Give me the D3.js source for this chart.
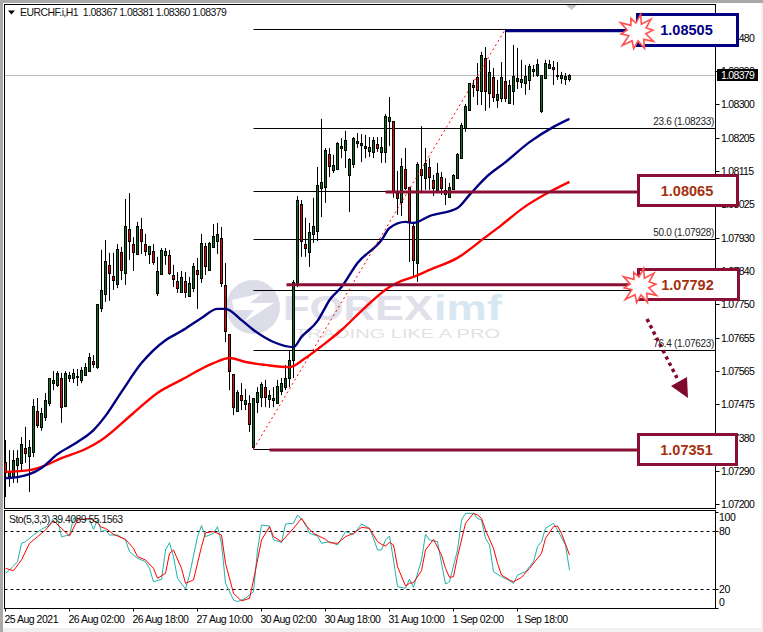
<!DOCTYPE html>
<html><head><meta charset="utf-8">
<style>html,body{margin:0;padding:0;background:#fff;overflow:hidden}svg{display:block}text{font-family:"Liberation Sans",Arial,sans-serif}</style>
<script src="https://cdn.jsdelivr.net/npm/d3@7"></script></head><body><div id="c"></div>
<script>
// Prices are in 1e-5 units (107315 = 1.07315)
const opens=[107315,107277,107274,107307,107313,107354,107332,107343,107455,107412,107439,107477,107532,107527,107546,107469,107546,107546,107549,107541,107554,107565,107593,107576,107738,107777,107857,107826,107804,107892,107835,107955,107914,107887,107955,107914,107887,107895,107780,107832,107884,107884,107829,107813,107782,107813,107771,107793,107843,107821,107909,107843,107906,107922,107931,107802,107667,107557,107455,107499,107475,107477,107357,107480,107494,107521,107488,107486,107477,107510,107521,107546,107596,107802,108024,107914,107892,107942,107950,108068,108071,108161,108117,108120,108178,108172,108104,108134,108192,108186,108178,108170,108167,108189,108167,108167,108252,108252,108054,108030,108120,108071,107964,107862,108120,108095,108126,108090,108063,108098,108063,108043,108065,108095,108150,108233,108282,108345,108373,108335,108425,108329,108373,108310,108315,108362,108302,108335,108362,108359,108356,108365,108389,108378,108280,108370,108398,108400,108376,108370,108367,108367];
const highs=[107376,107348,107348,107348,107384,107412,107376,107488,107491,107464,107505,107546,107565,107565,107560,107565,107563,107571,107571,107576,107587,107615,107609,107749,107898,107925,107890,107890,107914,107906,108038,108054,107933,107975,107986,107942,107909,107914,107879,107903,107903,107898,107857,107837,107840,107837,107824,107862,107876,107942,107917,107920,107969,107972,107961,107862,107667,107557,107513,107532,107516,107499,107491,107521,107535,107541,107513,107521,107541,107546,107582,107620,107815,108046,108035,107986,107972,108041,108126,108258,108178,108178,108159,108194,108205,108225,108150,108208,108219,108216,108214,108208,108208,108208,108208,108271,108318,108252,108115,108150,108178,108071,107975,108139,108238,108178,108150,108104,108137,108112,108095,108082,108106,108164,108247,108299,108356,108365,108411,108442,108455,108420,108398,108365,108414,108505,108365,108461,108453,108420,108406,108409,108406,108422,108378,108420,108420,108417,108414,108387,108384,108381];
const lows=[107219,107247,107258,107258,107288,107313,107233,107329,107409,107401,107428,107469,107513,107521,107423,107466,107535,107532,107524,107532,107552,107563,107574,107571,107727,107755,107758,107788,107793,107815,107802,107870,107840,107884,107887,107881,107859,107857,107771,107829,107857,107829,107796,107780,107780,107766,107769,107782,107736,107807,107829,107840,107903,107887,107796,107645,107513,107444,107455,107458,107458,107398,107351,107450,107466,107466,107464,107466,107477,107499,107513,107521,107546,107796,107879,107879,107851,107917,107922,107988,108027,108098,108109,108117,108150,108123,108002,108123,108178,108139,108150,108153,108150,108167,108137,108137,108183,108041,107994,107991,108063,107865,107824,107810,108054,108063,108063,108046,108063,108049,108021,108043,108063,108093,108150,108222,108280,108318,108296,108296,108280,108288,108304,108288,108304,108304,108299,108296,108340,108343,108324,108337,108373,108373,108274,108367,108398,108351,108365,108354,108351,108360];
const closes=[107288,107288,107321,107326,107365,107340,107357,107469,107417,107450,107486,107546,107541,107560,107466,107560,107554,107560,107552,107568,107576,107604,107585,107749,107788,107868,107835,107815,107900,107843,107964,107922,107892,107964,107922,107895,107909,107865,107840,107898,107895,107835,107818,107793,107824,107782,107807,107854,107832,107917,107854,107917,107936,107942,107807,107675,107565,107466,107508,107486,107486,107420,107491,107508,107530,107494,107499,107491,107524,107532,107546,107596,107810,108035,107922,107903,107947,107964,108076,108085,108172,108128,108131,108192,108183,108200,108148,108205,108197,108192,108183,108181,108200,108178,108181,108266,108263,108060,108041,108128,108068,107975,107870,108134,108104,108137,108098,108068,108109,108068,108052,108071,108104,108161,108241,108293,108356,108351,108337,108433,108335,108387,108318,108326,108373,108315,108351,108376,108370,108367,108376,108403,108395,108409,108378,108411,108409,108395,108378,108378,108376,108379];

const blueBars=[0,3,6,9,13,18,22,25,29,34,40,44,49,53,55,59,62,67,72,74,78,80,81,84,88,94,96,100,102,106,113,116,120,125,131,137,141];
const blueMA=[107271,107274,107282,107299,107337,107370,107403,107442,107508,107587,107650,107675,107711,107736,107736,107705,107678,107645,107631,107659,107703,107741,107760,107796,107862,107925,107958,107975,107972,107991,108013,108049,108096,108139,108194,108236,108258];
const redBars=[0,6,9,14,20,24,32,38,44,52,56,60,65,71,75,80,84,90,96,99,102,106,113,120,124,129,137,141];
const redMA=[107288,107293,107302,107326,107351,107376,107450,107505,107541,107587,107601,107590,107582,107576,107601,107642,107678,107741,107796,107813,107824,107843,107876,107933,107966,108010,108063,108085];

const stoMainBars=[0,1,3,4,5,7,9,11,12,13,14,16,17,18,20,21,22,23,24,25,26,28,30,31,33,35,36,37,39,40,41,42,43,45,46,48,49,50,52,53,54,55,57,58,60,62,63,64,66,67,69,70,72,73,75,76,78,79,81,83,85,87,89,91,92,93,94,95,96,97,98,100,101,102,104,105,106,108,109,110,111,113,114,115,117,118,119,120,121,122,124,126,127,128,130,132,133,134,135,137,138,140,141];
const stoMain=[36.2,39.6,48.2,67.2,68.9,75.8,81.7,86.1,93,91.3,74.1,75.8,93,93,91.3,92,81.7,91.3,79.3,81,75.8,75.8,70.6,58.6,51.7,48.2,41.3,27.5,30,60.3,67.9,53.4,31,20,34.4,74.1,85.5,74.1,77.5,84.4,67.2,25.8,8.6,6.9,10.3,17.2,60.3,86.1,85.1,70.6,68.2,87.2,87.9,96.5,87.9,77.5,74.8,67.2,68.9,65.5,79.3,76.5,87.2,82.7,72.4,60.3,60.3,70.6,74.8,50,22.4,20.7,30,21.7,50,76.5,70.6,68.9,46.5,25.1,27.5,60.3,91.3,98.2,98.2,93,91.3,72.4,65.5,37.9,32.7,28.6,25.8,34.4,37.9,48.2,63.7,68.9,82.7,87.9,81,65.5,39.4];
const stoSigBars=[0,2,4,6,8,10,12,14,16,18,21,23,24,25,27,30,32,33,35,37,38,40,41,42,44,45,47,48,49,50,52,54,55,57,59,61,62,64,66,67,69,72,74,75,77,80,81,83,85,87,89,91,93,94,95,96,97,98,100,101,102,104,105,107,109,110,111,112,113,115,117,118,119,120,122,123,124,126,127,129,131,134,135,137,138,139,141];
const stoSig=[41.3,38.9,50,67.2,74.1,81,90.6,82.7,74.8,91.3,93,88.6,83.7,82.7,76.5,71.3,62,53.4,50,41.3,31,36.2,56.8,60.3,41.3,25.8,29.3,46.5,63.7,78.2,79.3,75.8,46.5,15.5,7.6,10.3,29.3,70.6,84.4,74.1,68.9,82.7,93,86.1,77.5,71.3,67.9,67.2,74.1,77.5,83.7,82.7,68.9,66.2,64.4,68.2,65.5,43,23.1,25.8,26.5,38.9,60.3,71.3,55.1,41.3,32,32.7,53.4,87.9,98.2,96.5,93,81,62,46.5,34.4,29.3,27.5,32,41.3,56.8,72.4,84.4,85.1,77.5,55.16];

const priceTicks=[108480,108390,108300,108205,108115,108025,107930,107840,107750,107655,107565,107475,107380,107290,107200];
const priceTickLabels=["1.08480","1.08390","1.08300","1.08205","1.08115","1.08025","1.07930","1.07840","1.07750","1.07655","1.07565","1.07475","1.07380","1.07290","1.07200"];
const timeBars=[0,16,32,48,64,80,96,112,128];
const timeLabels=["25 Aug 2021","26 Aug 02:00","26 Aug 18:00","27 Aug 10:00","30 Aug 02:00","30 Aug 18:00","31 Aug 10:00","1 Sep 02:00","1 Sep 18:00"];
const stoTicks=[100,80,20,0];
const fibPrices=[108505,108233,108060,107928,107789,107623,107351];
const fibNotes=["","23.6 (1.08233)","","50.0 (1.07928)","","76.4 (1.07623)",""];
const fibStartBar=62, fibEndBar=125;
const levelLabels=["1.08505","1.08065","1.07792","1.07351"];
const levelLinePrices=[108500,108057,107802,107348];
const levelStartBars=[125,95,70.25,66];
const lastPrice=108379;
const headerText="EURCHF.i,H1  1.08367 1.08381 1.08360 1.08379";
const stoText="Sto(5,3,3) 39.4089 55.1563";

const W=763,H=632,L=4.5,R=715.5,T=4.5,MB=508.5,ST=510.5,SB=608.5;
const NAVY="#000080",MAROON="#8a0f35",TXT="#a5300f",GRN="#0a6e1e",RED="#f00000";
const svg=d3.select("#c").append("svg").attr("width",W).attr("height",H);
const X=d3.scaleLinear().domain([0,141]).range([5.5,569.5]);
const Y=d3.scaleLinear().domain([107200,108480]).range([504,38]);
const S=d3.scaleLinear().domain([0,100]).range([608.3,511.6]);

svg.append("rect").attr("width",W).attr("height",H).attr("fill","#f0f0f0");
svg.append("rect").attr("x",0).attr("y",0).attr("width",W).attr("height",3).attr("fill","#a9a9a9");
svg.append("rect").attr("x",0).attr("y",0).attr("width",3).attr("height",H).attr("fill","#a9a9a9");
svg.append("rect").attr("x",3).attr("y",3).attr("width",758).attr("height",625).attr("fill","#fff");

// watermark
const wm=svg.append("g");
wm.append("circle").attr("cx",253).attr("cy",307).attr("r",27).attr("fill","#dcdde8");
wm.append("path").attr("d","M232 300 L262 293 L250 303 L274 303 L244 322 L254 310 L234 310 Z").attr("fill","#fff");
const wmText=(x,y,fs,w,c,t,fw)=>wm.append("text").attr("x",x).attr("y",y).attr("font-size",fs).attr("font-weight",fw).attr("textLength",w).attr("lengthAdjust","spacingAndGlyphs").attr("fill",c).text(t);
wmText(283,320,35,150,"#dfe0e9","FOREX","bold");
wmText(434,320,35,68,"#d8e8f3","imf","bold");
wmText(295,338,13,205,"#e2e2e2","TRADING LIKE A PRO","normal");

// current price line
svg.append("line").attr("x1",L).attr("x2",R).attr("y1",Math.round(Y(lastPrice))+.5).attr("y2",Math.round(Y(lastPrice))+.5).attr("stroke","#bdbdbd");

// fibo
const crisp=v=>Math.round(v)+.5;
svg.selectAll(".fib").data(fibPrices).join("line").attr("x1",X(fibStartBar)).attr("x2",R)
 .attr("y1",d=>crisp(Y(d))).attr("y2",d=>crisp(Y(d))).attr("stroke","#000");
svg.selectAll(".fibn").data(fibPrices).join("text").attr("x",714).attr("y",d=>Y(d)-3).attr("text-anchor","end")
 .attr("font-size",10).attr("letter-spacing",-.3).attr("fill","#222").text((d,i)=>fibNotes[i]);

// candles
const cg=svg.append("g");
const bars=d3.range(opens.length);
cg.selectAll(".w").data(bars).join("line").attr("x1",i=>X(i)).attr("x2",i=>X(i))
 .attr("y1",i=>Y(highs[i])).attr("y2",i=>Y(lows[i])).attr("stroke","#000");
cg.selectAll(".b").data(bars).join("rect").attr("x",i=>X(i)-1)
 .attr("y",i=>crisp(Y(Math.max(opens[i],closes[i]))))
 .attr("width",2).attr("height",i=>Math.max(1,Math.round(Math.abs(Y(opens[i])-Y(closes[i])))))
 .attr("fill",i=>closes[i]<opens[i]?RED:GRN).attr("stroke","#000");

// MAs
const priceLine=(bs)=>d3.line().curve(d3.curveMonotoneX).x((d,i)=>X(bs[i])).y(d=>Y(d));
svg.append("path").attr("d",priceLine(redBars)(redMA)).attr("fill","none").attr("stroke","#ff0000").attr("stroke-width",2.4);
svg.append("path").attr("d",priceLine(blueBars)(blueMA)).attr("fill","none").attr("stroke",NAVY).attr("stroke-width",2.4);

// trend
svg.append("line").attr("x1",X(fibStartBar)).attr("y1",Y(fibPrices[6])).attr("x2",X(fibEndBar)).attr("y2",Y(fibPrices[0]))
 .attr("stroke","#ff0000").attr("stroke-dasharray","2 3");

// top shift marker
svg.append("path").attr("d","M566 5 L577 5 L571.5 10 Z").attr("fill","#c4c4c4");

// axes
svg.append("rect").attr("x",L).attr("y",T).attr("width",R-L).attr("height",MB-T).attr("fill","none").attr("stroke","#000");
svg.append("rect").attr("x",L).attr("y",ST).attr("width",R-L).attr("height",SB-ST).attr("fill","none").attr("stroke","#000");
const tickFont={size:10.5,ls:-.55};
svg.selectAll(".pt").data(priceTicks).join("line").attr("x1",R).attr("x2",R+4).attr("y1",d=>crisp(Y(d))).attr("y2",d=>crisp(Y(d))).attr("stroke","#000");
svg.selectAll(".pl").data(priceTicks).join("text").attr("x",721).attr("y",d=>Y(d)+4).attr("font-size",tickFont.size).attr("letter-spacing",-.7)
 .attr("fill","#000").text((d,i)=>priceTickLabels[i]);
svg.selectAll(".tt").data(timeBars).join("line").attr("x1",d=>X(d)).attr("x2",d=>X(d)).attr("y1",SB).attr("y2",SB+3).attr("stroke","#000");
svg.selectAll(".tl").data(timeBars).join("text").attr("x",d=>X(d)-1).attr("y",623).attr("font-size",tickFont.size).attr("letter-spacing",-.5)
 .attr("fill","#000").text((d,i)=>timeLabels[i]);

// price flag
svg.append("rect").attr("x",717).attr("y",69).attr("width",41).attr("height",12).attr("fill","#000");
svg.append("text").attr("x",721).attr("y",Y(lastPrice)+4).attr("font-size",tickFont.size).attr("letter-spacing",-.7).attr("fill","#fff").text(d3.format(".5f")(lastPrice/1e5));

// stochastic
[80,20].forEach(v=>svg.append("line").attr("x1",L).attr("x2",R).attr("y1",crisp(S(v))).attr("y2",crisp(S(v))).attr("stroke","#000").attr("stroke-dasharray","3 3"));
const stoLine=(bs)=>d3.line().x((d,i)=>X(bs[i])).y(d=>S(d));
svg.append("path").attr("d",stoLine(stoMainBars)(stoMain)).attr("fill","none").attr("stroke","#20b2aa");
svg.append("path").attr("d",stoLine(stoSigBars)(stoSig)).attr("fill","none").attr("stroke","#ff0000");
svg.selectAll(".sl").data(stoTicks).join("text").attr("x",719).attr("y",d=>d===100?521:d===0?606:S(d)+4)
 .attr("font-size",tickFont.size).attr("letter-spacing",-.4).text(d=>d);
svg.selectAll(".st").data(stoTicks).join("line").attr("x1",R).attr("x2",R+3).attr("y1",d=>crisp(S(d))).attr("y2",d=>crisp(S(d))).attr("stroke","#000");
svg.append("text").attr("x",9).attr("y",523).attr("font-size",tickFont.size).attr("letter-spacing",tickFont.ls).attr("fill","#111").text(stoText);

// header
svg.append("path").attr("d","M8 10.5 L15 10.5 L11.5 14.5 Z").attr("fill","#000");
svg.append("text").attr("x",20).attr("y",16).attr("font-size",tickFont.size).attr("letter-spacing",tickFont.ls).style("white-space","pre").attr("fill","#111").text(headerText);

// level lines
const lvColors=[NAVY,MAROON,MAROON,MAROON];
svg.selectAll(".lv").data(levelLinePrices).join("line").attr("x1",(d,i)=>X(levelStartBars[i])).attr("x2",637)
 .attr("y1",d=>Y(d)).attr("y2",d=>Y(d)).attr("stroke",(d,i)=>lvColors[i]).attr("stroke-width",3);

// boxes
const boxes=[[637.5,14.5,100,31],[638.5,175.5,99,30],[638.5,269.5,100,30],[638.5,434.5,98,30]];
const txtCol=[NAVY,TXT,TXT,TXT];
boxes.forEach((b,i)=>{
 svg.append("rect").attr("x",b[0]).attr("y",b[1]).attr("width",b[2]).attr("height",b[3]).attr("fill","#fff").attr("stroke",lvColors[i]).attr("stroke-width",3);
 svg.append("text").attr("x",b[0]+b[2]/2-1).attr("y",b[1]+b[3]/2+5).attr("text-anchor","middle").attr("font-size",14.5).attr("font-weight","bold").attr("fill",txtCol[i]).text(levelLabels[i]);
});

// bursts
const burstRadii=[18,9,19,10,16,9,19,10,18,9,17,10,20,9,16,10,19,9,15,9];
const radial=d3.lineRadial().curve(d3.curveLinearClosed).angle((d,i)=>i/burstRadii.length*2*Math.PI+.2).radius(d=>d);
[[637,32],[640,286]].forEach(c=>{
 svg.append("path").attr("transform",`translate(${c[0]},${c[1]})`).attr("d",radial(burstRadii)).attr("fill","#fff").attr("stroke","#ff5050").attr("stroke-width",1.6);
});

// arrow
svg.append("line").attr("x1",647).attr("y1",319).attr("x2",677).attr("y2",378).attr("stroke","#7f0a2e").attr("stroke-width",3.5).attr("stroke-dasharray","3.5 3.5");
svg.append("path").attr("d","M671 386 L687 377 L688 398 Z").attr("fill","#7f0a2e");
</script></body></html>
